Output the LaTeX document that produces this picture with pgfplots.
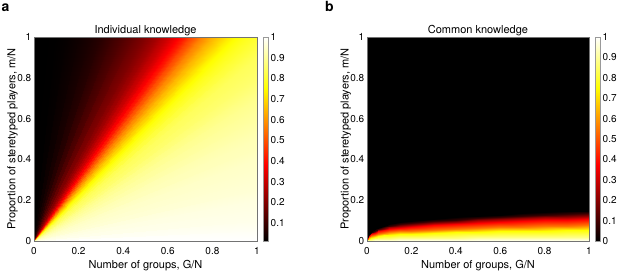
\documentclass[border=0pt]{standalone}
\usepackage{pgfplots}
\pgfplotsset{compat=1.18}
\usepackage{fontspec}
\setmainfont{TeX Gyre Heros}
\begin{document}
\begin{tikzpicture}[font=\fontsize{11bp}{13bp}\selectfont]
\useasboundingbox (0,0) rectangle (619bp,272bp);
\pgfplotsset{
  panel/.style={
    scale only axis, width=223bp, height=204bp,
    xmin=0,xmax=1,ymin=0,ymax=1,
    xtick={0,0.2,0.4,0.6,0.8,1}, ytick={0,0.2,0.4,0.6,0.8,1},
    axis on top, major tick length=0pt,
    axis line style={black!55, line width=0.4bp},
    colormap={hotm}{rgb255(0cm)=(0,0,0); rgb255(3cm)=(255,0,0); rgb255(6cm)=(255,255,0); rgb255(8cm)=(255,255,255)},
    /pgf/number format/assume math mode=true,
    tick label style={font=\fontsize{10bp}{12bp}\selectfont},
    xticklabel style={anchor=base, yshift=-13.3bp, inner sep=0pt},
    yticklabel style={anchor=east, xshift=-2.5bp, inner sep=0pt},
    xlabel={Number of groups, G/N},
    ylabel={Proportion of steretyped players, m/N},
    every axis x label/.style={at={(axis description cs:0.5,-0.1336)}, anchor=base, inner sep=0pt},
    every axis y label/.style={at={(axis description cs:-0.083,0.5)}, rotate=90, anchor=base, inner sep=0pt},
    every axis title/.style={at={(axis description cs:0.5,1.0184)}, anchor=base, inner sep=0pt},
    colorbar,
    colorbar shift/.style={xshift=6bp},
    colorbar style={at={(parent axis.north east)}, anchor=north west, width=5bp,
      axis line style={black!40, line width=0.4bp}, major tick length=0pt,
      /pgf/number format/assume math mode=true,
      tick label style={font=\fontsize{10bp}{12bp}\selectfont},
      yticklabel style={anchor=west, xshift=2.5bp, inner sep=0pt}},
  }
}
\begin{axis}[panel, at={(34bp,31bp)}, anchor=south west, title={Individual knowledge},
  point meta min=0.013, point meta max=1,
  colorbar style={ytick={0.1,0.2,0.3,0.4,0.5,0.6,0.7,0.8,0.9,1}}]
\addplot[surf, shader=interp, point meta=explicit] table[x=x,y=y,meta=c] {
x y c
0 0 0.013
0 1 0.013

0 0 0.013
0.05 1 0.013

0 0 0.015
0.1 1 0.015

0 0 0.022
0.15 1 0.022

0 0 0.035
0.2 1 0.035

0 0 0.05
0.25 1 0.05

0 0 0.07
0.3 1 0.07

0 0 0.10
0.35 1 0.10

0 0 0.13
0.4 1 0.13

0 0 0.165
0.45 1 0.165

0 0 0.20
0.5 1 0.20

0 0 0.225
0.525 1 0.225

0 0 0.25
0.55 1 0.25

0 0 0.28
0.575 1 0.28

0 0 0.31
0.6 1 0.31

0 0 0.345
0.625 1 0.345

0 0 0.385
0.65 1 0.385

0 0 0.43
0.675 1 0.43

0 0 0.48
0.7 1 0.48

0 0 0.525
0.725 1 0.525

0 0 0.57
0.75 1 0.57

0 0 0.605
0.775 1 0.605

0 0 0.64
0.8 1 0.64

0 0 0.67
0.825 1 0.67

0 0 0.70
0.85 1 0.70

0 0 0.725
0.875 1 0.725

0 0 0.75
0.9 1 0.75

0 0 0.765
0.925 1 0.765

0 0 0.78
0.95 1 0.78

0 0 0.79
0.975 1 0.79

0 0 0.80
1 1 0.80

0 0 0.82
1 0.95 0.82

0 0 0.84
1 0.9 0.84

0 0 0.85
1 0.85 0.85

0 0 0.86
1 0.8 0.86

0 0 0.875
1 0.75 0.875

0 0 0.89
1 0.7 0.89

0 0 0.90
1 0.65 0.90

0 0 0.91
1 0.6 0.91

0 0 0.92
1 0.55 0.92

0 0 0.93
1 0.5 0.93

0 0 0.935
1 0.45 0.935

0 0 0.945
1 0.4 0.945

0 0 0.95
1 0.35 0.95

0 0 0.955
1 0.3 0.955

0 0 0.96
1 0.25 0.96

0 0 0.97
1 0.2 0.97

0 0 0.975
1 0.15 0.975

0 0 0.98
1 0.1 0.98

0 0 0.99
1 0.05 0.99

0 0 1.0
1 0 1.0
};
\end{axis}
\begin{axis}[panel, at={(367bp,31bp)}, anchor=south west, width=222bp, title={Common knowledge},
  point meta min=0, point meta max=1,
  colorbar style={ytick={0,0.1,0.2,0.3,0.4,0.5,0.6,0.7,0.8,0.9,1}}]
\addplot[surf, shader=interp, point meta=explicit] table[x=x,y=y,meta=c] {
x y c
0 0 1.0
0 0 0.88
0 0 0.75
0 0 0.55
0 0 0.375
0 0 0.22
0 0 0.08
0 0 0
0 1 0

0.005 0 1.0
0.005 0.0034 0.88
0.005 0.0085 0.75
0.005 0.01224 0.55
0.005 0.017 0.375
0.005 0.01921 0.22
0.005 0.02125 0.08
0.005 0.02346 0
0.005 1 0

0.01 0 1.0
0.01 0.0048 0.88
0.01 0.012 0.75
0.01 0.01728 0.55
0.01 0.024 0.375
0.01 0.02712 0.22
0.01 0.03 0.08
0.01 0.03312 0
0.01 1 0

0.02 0 1.0
0.02 0.0066 0.88
0.02 0.0165 0.75
0.02 0.02376 0.55
0.02 0.033 0.375
0.02 0.03729 0.22
0.02 0.04125 0.08
0.02 0.04554 0
0.02 1 0

0.035 0 1.0
0.035 0.0082 0.88
0.035 0.0205 0.75
0.035 0.02952 0.55
0.035 0.041 0.375
0.035 0.04633 0.22
0.035 0.05125 0.08
0.035 0.05658 0
0.035 1 0

0.05 0 1.0
0.05 0.0094 0.88
0.05 0.0235 0.75
0.05 0.03384 0.55
0.05 0.047 0.375
0.05 0.05311 0.22
0.05 0.05875 0.08
0.05 0.06486 0
0.05 1 0

0.075 0 1.0
0.075 0.0108 0.88
0.075 0.027 0.75
0.075 0.03888 0.55
0.075 0.054 0.375
0.075 0.06102 0.22
0.075 0.0675 0.08
0.075 0.07452 0
0.075 1 0

0.1 0 1.0
0.1 0.012 0.88
0.1 0.03 0.75
0.1 0.0432 0.55
0.1 0.06 0.375
0.1 0.0678 0.22
0.1 0.075 0.08
0.1 0.0828 0
0.1 1 0

0.15 0 1.0
0.15 0.0132 0.88
0.15 0.033 0.75
0.15 0.04752 0.55
0.15 0.066 0.375
0.15 0.07458 0.22
0.15 0.0825 0.08
0.15 0.09108 0
0.15 1 0

0.2 0 1.0
0.2 0.0142 0.88
0.2 0.0355 0.75
0.2 0.05112 0.55
0.2 0.071 0.375
0.2 0.08023 0.22
0.2 0.08875 0.08
0.2 0.09798 0
0.2 1 0

0.3 0 1.0
0.3 0.0156 0.88
0.3 0.039 0.75
0.3 0.05616 0.55
0.3 0.078 0.375
0.3 0.08814 0.22
0.3 0.0975 0.08
0.3 0.10764 0
0.3 1 0

0.4 0 1.0
0.4 0.0168 0.88
0.4 0.042 0.75
0.4 0.06048 0.55
0.4 0.084 0.375
0.4 0.09492 0.22
0.4 0.105 0.08
0.4 0.11592 0
0.4 1 0

0.5 0 1.0
0.5 0.0178 0.88
0.5 0.0445 0.75
0.5 0.06408 0.55
0.5 0.089 0.375
0.5 0.10057 0.22
0.5 0.11125 0.08
0.5 0.12282 0
0.5 1 0

0.6 0 1.0
0.6 0.0188 0.88
0.6 0.047 0.75
0.6 0.06768 0.55
0.6 0.094 0.375
0.6 0.10622 0.22
0.6 0.1175 0.08
0.6 0.12972 0
0.6 1 0

0.7 0 1.0
0.7 0.0196 0.88
0.7 0.049 0.75
0.7 0.07056 0.55
0.7 0.098 0.375
0.7 0.11074 0.22
0.7 0.1225 0.08
0.7 0.13524 0
0.7 1 0

0.8 0 1.0
0.8 0.0204 0.88
0.8 0.051 0.75
0.8 0.07344 0.55
0.8 0.102 0.375
0.8 0.11526 0.22
0.8 0.1275 0.08
0.8 0.14076 0
0.8 1 0

0.9 0 1.0
0.9 0.021 0.88
0.9 0.0525 0.75
0.9 0.0756 0.55
0.9 0.105 0.375
0.9 0.11865 0.22
0.9 0.13125 0.08
0.9 0.1449 0
0.9 1 0

1 0 1.0
1 0.0216 0.88
1 0.054 0.75
1 0.07776 0.55
1 0.108 0.375
1 0.12204 0.22
1 0.135 0.08
1 0.14904 0
1 1 0
};
\end{axis}
\node[anchor=base west, inner sep=0pt, font=\fontsize{14bp}{16bp}\selectfont\bfseries] at (1.5bp,260.3bp) {a};
\node[anchor=base west, inner sep=0pt, font=\fontsize{14bp}{16bp}\selectfont\bfseries] at (325bp,260.3bp) {b};
\end{tikzpicture}
\end{document}
